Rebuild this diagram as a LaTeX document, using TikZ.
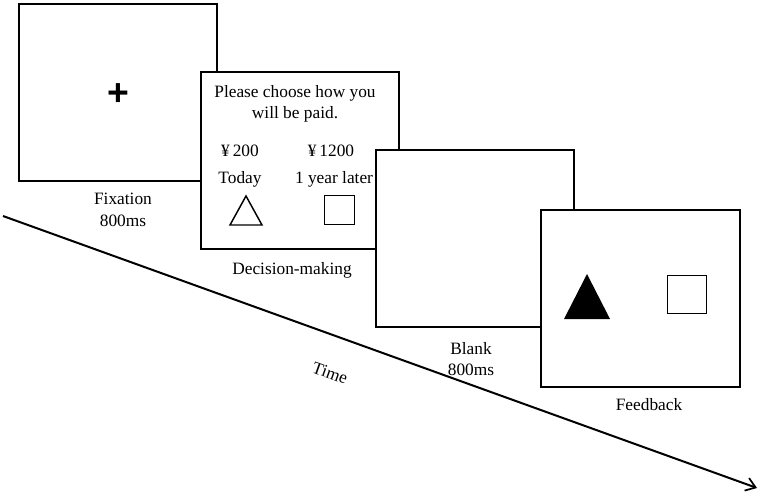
\documentclass[tikz,border=0pt]{standalone}
\usepackage{fontspec}
\setmainfont{Liberation Serif}
\newfontfamily\plusfont{Liberation Sans}
\usetikzlibrary{arrows.meta}
\tikzset{
  screen/.style={draw=black, fill=white, line width=1.5pt, minimum width=148.5pt, minimum height=132.75pt, anchor=north west, inner sep=0pt},
  lbl/.style={font=\fontsize{13}{15}\selectfont, inner sep=0pt, align=center},
  icon/.style={draw=black, line width=1.1pt, fill=white, inner sep=0pt, anchor=north west},
  timeline/.style={line width=1.5pt, -{Straight Barb[length=7pt, width=10pt, line width=1.3pt]}},
}
\begin{document}
\begin{tikzpicture}[x=0.75pt, y=-0.75pt]
\useasboundingbox (0,0) rectangle (762,494);
% time arrow
\coordinate (tstart) at (3,216);
\coordinate (tend) at (757,488);
\draw[timeline] (tstart) -- (tend);
\node[lbl, rotate=-20] (time) at (330,373) {Time};
% fixation
\node[screen] (fix) at (18,3) {};
\node[font=\plusfont\bfseries\fontsize{28}{28}\selectfont, inner sep=0pt] (plus) at (118,95) {+};
\node[lbl] (fixlbl) at (123,210) {Fixation\\[1pt]800ms};
% decision
\node[screen] (dec) at (200,71) {};
\node[lbl] (q) at (295,104) {Please choose how you\\[1pt]will be paid.};
\node[lbl] (y1) at (240,151) {¥\,200};
\node[lbl] (y2) at (331,151) {¥\,1200};
\node[lbl] (t1) at (240,179) {Today};
\node[lbl] (t2) at (334,179) {1 year later};
\draw[line width=1.1pt, line join=miter] (246,196) -- (262,225) -- (230,225) -- cycle;
\node[icon, minimum width=22.5pt, minimum height=21.75pt] (sq1) at (324,195) {};
\node[lbl] (declbl) at (292,270) {Decision-making};
% blank
\node[screen] (blank) at (375,149) {};
\node[lbl] (blanklbl) at (471,359) {Blank\\[1pt]800ms};
% feedback
\node[screen, minimum width=149.25pt] (fb) at (540,209) {};
\fill[black] (587,274) -- (610,319) -- (564,319) -- cycle;
\node[icon, minimum width=29.25pt, minimum height=28.5pt] (sq2) at (667,275) {};
\node[lbl] (fblbl) at (649,405) {Feedback};
\end{tikzpicture}
\end{document}
